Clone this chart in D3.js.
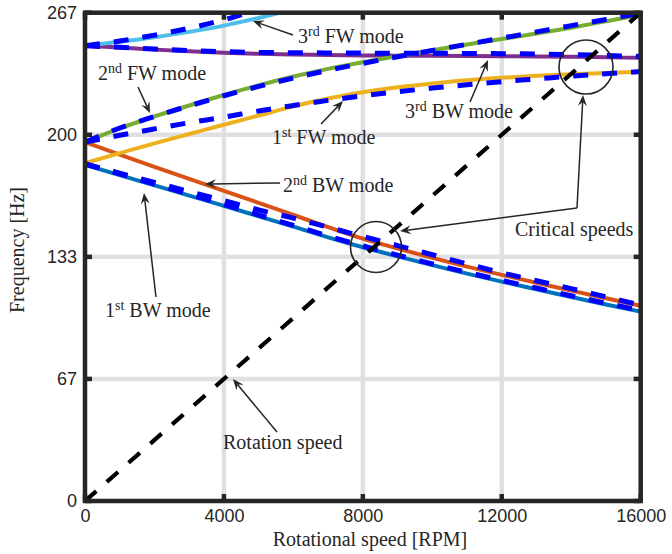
<!DOCTYPE html>
<html><head><meta charset="utf-8">
<script src="https://cdn.jsdelivr.net/npm/d3@7"></script>
<style>body{margin:0;background:#fff} svg{display:block}</style>
</head><body><svg id="c" width="672" height="554"></svg>
<script>
// ---------- data ----------
const speeds = [0,1000,2000,3000,4000,5000,6000,7000,8000,9000,10000,11000,12000,13000,14000,15000,16000];
const speedsFW3 = [0,1000,2000,3000,4000,5000,6000];
// solid (model A)
const bw1 = [183.6,178,172.4,166.8,161.2,155.5,149.8,144,138.6,133.6,128.8,124.2,119.8,115.6,111.4,107.3,103.4];
const bw2 = [196,189.2,182.5,175.9,169.4,162.8,156.2,149.6,143.3,137.9,132.8,128,123.5,119.2,114.9,110.7,106.6];
const fw1 = [184.5,190,195.3,200.4,205.5,210.5,215.5,219.8,223.2,225.9,228,229.8,231.1,232.2,233.1,233.8,234.4];
const fw2 = [196,203.5,210,216,221.7,227,231.8,236,239.6,243,246.2,249.3,252.3,255.3,258.5,262,265.5];
const bw3 = [248.6,247.6,246.5,245.6,244.8,244.2,243.8,243.5,243.3,243.2,243.1,243,242.9,242.8,242.6,242.3,242];
const fw3 = [248.6,250.8,253.3,256.2,259.6,263.8,268.5];
// dashed (model B)
const bw1B = [184.2,178.7,173.1,167.5,161.9,156.2,150.5,144.7,139.3,134.3,129.5,124.9,120.5,116.3,112.1,108,104.1];
const bw2B = [184,179,174,169,164,159,154.5,149.5,144.5,139.5,134.5,129.5,124.6,120.3,116,111.5,107];
const fw1B = [196,199.7,203.2,206.6,209.6,213,216,218.8,221.3,223.5,225.5,227.3,229,230.5,232,233.3,234.5];
const fw2B = [196,203.7,210,215.8,221.3,226.4,231,235.2,239,242.6,246,249.4,252.8,256.2,259.6,263,266.3];
const bw3B = [248.6,247.8,246.8,246,245.4,245,244.8,244.7,244.6,244.5,244.5,244.4,244.3,244.1,243.8,243.3,242.8];
const fw3B = [248.6,251.2,254.4,258.2,262.8,268.5,274];
// rotation speed line (1x)
const rotSpeed = [0,16000];
const rotFreq = [0,800/3];
// ticks
const xTicks = [0,4000,8000,12000,16000];
const xTickLabels = ["0","4000","8000","12000","16000"];
const yTicks = [0,800/12,800/6,200,800/3];
const yTickLabels = ["0","67","133","200","267"];
// annotations (data coords)
const notes = [
  {n:"3",s:"rd",t:" FW mode",x:6133,y:250.1, tail:[5989,254.5], head:[4837,262.1]},
  {n:"2",s:"nd",t:" FW mode",x:374,y:229.9, tail:[1526,226.1], head:[1872,211.9]},
  {n:"1",s:"st",t:" FW mode",x:5384,y:195.0, tail:[6795,205.9], head:[7429,218.4]},
  {n:"3",s:"rd",t:" BW mode",x:9214,y:209.2, tail:[11085,217.9], head:[11603,240.8]},
  {n:"2",s:"nd",t:" BW mode",x:5701,y:168.7, tail:[5615,173.7], head:[3455,173.1]},
  {n:"1",s:"st",t:" BW mode",x:576,y:100.5, tail:[2044,111.4], head:[1699,168.2]},
  {n:"Rotation speed",s:"",t:"",x:3973,y:28.4, tail:[5528,37.7], head:[4261,66.6]},
  {n:"Critical speeds",s:"",t:"",x:12381,y:144.7, tail:[14166,160.0], head:[14339,221.7]},
];
const critCorner = [14166,160.0];
const critHead2 = [9070,147.4];
const circles = [{x:14425,y:237.0,r:27},{x:8379,y:138.7,r:25.5}];

// ---------- drawing ----------
const svg = d3.select("#c");
const L=85, R=640.7, T=12.7, B=501;
const x = d3.scaleLinear().domain([0,16000]).range([L,R]);
const y = d3.scaleLinear().domain([0,800/3]).range([B,T]);
const ink = "#262626";
const serif = "'Liberation Serif','Times New Roman',serif";
const sans = "'Liberation Sans',Arial,sans-serif";

svg.append("clipPath").attr("id","clip").append("rect")
  .attr("x",L).attr("y",T).attr("width",R-L).attr("height",B-T);

// grid
const grid = svg.append("g").attr("stroke","#e0e0e0").attr("stroke-width",4.5);
xTicks.slice(1,-1).forEach(v=>grid.append("line").attr("x1",x(v)).attr("x2",x(v)).attr("y1",T).attr("y2",B));
yTicks.slice(1,-1).forEach(v=>grid.append("line").attr("y1",y(v)).attr("y2",y(v)).attr("x1",L).attr("x2",R));

const plot = svg.append("g").attr("clip-path","url(#clip)");
const line = (xs,ys)=>d3.line().x((d,i)=>x(xs[i])).y(d=>y(d)).curve(d3.curveMonotoneX)(ys);

const solids = [
  [speeds,bw1,"#0072BD"],[speeds,bw2,"#D95319"],[speeds,fw1,"#EDB120"],
  [speeds,bw3,"#7E2F8E"],[speeds,fw2,"#77AC30"],[speedsFW3,fw3,"#4DBEEE"]
];
solids.forEach(([xs,ys,c])=>plot.append("path").attr("d",line(xs,ys))
  .attr("fill","none").attr("stroke",c).attr("stroke-width",4));

[[speeds,bw1B],[speeds,bw2B],[speeds,fw1B],[speeds,bw3B],[speeds,fw2B],[speedsFW3,fw3B]]
 .forEach(([xs,ys])=>plot.append("path").attr("d",line(xs,ys))
  .attr("fill","none").attr("stroke","#0000FF").attr("stroke-width",5)
  .attr("stroke-dasharray","15,14"));

plot.append("path").attr("d",d3.line().x((d,i)=>x(rotSpeed[i])).y(d=>y(d))(rotFreq))
  .attr("fill","none").attr("stroke","#000").attr("stroke-width",4.2).attr("stroke-dasharray","15,14");

// frame
svg.append("rect").attr("x",L).attr("y",T).attr("width",R-L).attr("height",B-T)
  .attr("fill","none").attr("stroke",ink).attr("stroke-width",4.5);
const tk = svg.append("g").attr("stroke",ink).attr("stroke-width",4.5);
xTicks.forEach(v=>{
  tk.append("line").attr("x1",x(v)).attr("x2",x(v)).attr("y1",B).attr("y2",B-7);
  tk.append("line").attr("x1",x(v)).attr("x2",x(v)).attr("y1",T).attr("y2",T+7);
});
yTicks.forEach(v=>{
  tk.append("line").attr("y1",y(v)).attr("y2",y(v)).attr("x1",L).attr("x2",L+7);
  tk.append("line").attr("y1",y(v)).attr("y2",y(v)).attr("x1",R).attr("x2",R-7);
});

// axes labels via d3 axes
const xa = svg.append("g").attr("transform",`translate(0,${B})`)
  .call(d3.axisBottom(x).tickValues(xTicks).tickSize(0).tickPadding(8).tickFormat((d,i)=>xTickLabels[i]));
const ya = svg.append("g").attr("transform",`translate(${L},0)`)
  .call(d3.axisLeft(y).tickValues(yTicks).tickSize(0).tickPadding(8).tickFormat((d,i)=>yTickLabels[i]));
[xa,ya].forEach(a=>{a.select(".domain").remove();
  a.selectAll("text").attr("font-family",sans).attr("font-size",18).attr("fill",ink);});

svg.append("text").attr("x",370).attr("y",546).attr("text-anchor","middle")
  .attr("font-family",serif).attr("font-size",20).attr("fill",ink).text("Rotational speed [RPM]");
svg.append("text").attr("transform","translate(24,250) rotate(-90)").attr("text-anchor","middle")
  .attr("font-family",serif).attr("font-size",20).attr("fill",ink).text("Frequency [Hz]");

// annotations
const ann = svg.append("g");
function arrow(p0,p1){
  const x0=x(p0[0]),y0=y(p0[1]),x1=x(p1[0]),y1=y(p1[1]);
  const dx=x1-x0, dy=y1-y0, len=Math.hypot(dx,dy), ux=dx/len, uy=dy/len;
  const hl=11, hw=4.5, notch=7;
  ann.append("line").attr("x1",x0).attr("y1",y0).attr("x2",x1-ux*notch).attr("y2",y1-uy*notch)
    .attr("stroke",ink).attr("stroke-width",1.5);
  const bx=x1-ux*hl, by=y1-uy*hl;
  ann.append("path").attr("d",`M${x1},${y1}L${bx-uy*hw},${by+ux*hw}L${x1-ux*notch},${y1-uy*notch}L${bx+uy*hw},${by-ux*hw}Z`)
    .attr("fill",ink);
}
notes.forEach(d=>{
  const t = ann.append("text").attr("x",x(d.x)).attr("y",y(d.y))
    .attr("font-family",serif).attr("font-size",20).attr("fill",ink);
  t.append("tspan").text(d.n);
  if(d.s){
    t.append("tspan").attr("font-size",14).attr("dy",-7).text(d.s);
    t.append("tspan").attr("dy",7).text(d.t);
  }
  if(d.n==="Critical speeds"){
    ann.append("line").attr("x1",x(d.x)+0).attr("y1",0).attr("x2",0).attr("y2",0).remove();
  }
  arrow(d.tail,d.head);
});
arrow(critCorner,critHead2);
circles.forEach(c=>ann.append("circle").attr("cx",x(c.x)).attr("cy",y(c.y)).attr("r",c.r)
  .attr("fill","none").attr("stroke",ink).attr("stroke-width",1.6));
</script></body></html>
